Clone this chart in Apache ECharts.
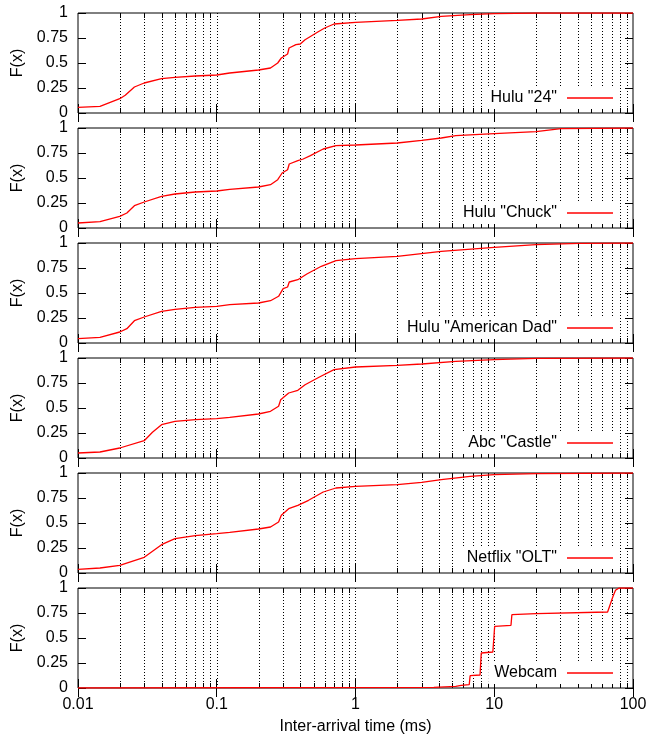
<!DOCTYPE html>
<html>
<head>
<meta charset="utf-8">
<script src="https://cdn.jsdelivr.net/npm/echarts@6/dist/echarts.min.js"></script>
<style>
  html, body { margin: 0; padding: 0; background: #fff; }
  #chart { width: 660px; height: 743px; }
</style>
</head>
<body>
<div id="chart"></div>
<script>
// CDF points [inter-arrival time (ms), F(x)]
const hulu24 = [
  [0.01, 0.057], [0.0144, 0.067], [0.02, 0.143], [0.0219, 0.177], [0.0255, 0.26],
  [0.03, 0.30], [0.04, 0.343], [0.05, 0.357], [0.07, 0.37], [0.1, 0.38],
  [0.124, 0.40], [0.2, 0.43], [0.244, 0.45], [0.275, 0.50], [0.292, 0.55],
  [0.324, 0.59], [0.332, 0.65], [0.372, 0.683], [0.4, 0.69], [0.433, 0.733],
  [0.535, 0.81], [0.6, 0.85], [0.7, 0.89], [1, 0.907], [2, 0.927],
  [3, 0.94], [4.15, 0.967], [6.7, 0.983], [10, 0.993], [20, 1.0], [100, 1.0]
];
const huluChuck = [
  [0.01, 0.05], [0.0144, 0.063], [0.02, 0.117], [0.0225, 0.15], [0.0255, 0.223],
  [0.03, 0.26], [0.04, 0.317], [0.05, 0.34], [0.07, 0.36], [0.1, 0.37],
  [0.124, 0.387], [0.2, 0.41], [0.244, 0.433], [0.275, 0.483], [0.296, 0.55],
  [0.324, 0.583], [0.333, 0.64], [0.384, 0.673], [0.42, 0.69], [0.473, 0.723],
  [0.585, 0.79], [0.723, 0.823], [1, 0.83], [2, 0.85], [3, 0.877],
  [4.15, 0.90], [5.28, 0.923], [10, 0.943], [20, 0.963], [30.3, 0.993], [100, 1.0]
];
const huluAmericanDad = [
  [0.01, 0.043], [0.0144, 0.057], [0.02, 0.11], [0.0225, 0.143], [0.0255, 0.223],
  [0.03, 0.26], [0.04, 0.317], [0.05, 0.337], [0.07, 0.357], [0.1, 0.367],
  [0.124, 0.383], [0.2, 0.40], [0.244, 0.423], [0.279, 0.467], [0.301, 0.543],
  [0.324, 0.56], [0.333, 0.61], [0.384, 0.633], [0.446, 0.69], [0.567, 0.767],
  [0.723, 0.823], [1, 0.843], [2, 0.867], [4.15, 0.917], [10, 0.957],
  [20, 0.983], [41, 0.997], [100, 1.0]
];
const abcCastle = [
  [0.01, 0.05], [0.0144, 0.06], [0.02, 0.10], [0.03, 0.173], [0.0344, 0.257],
  [0.04, 0.333], [0.05, 0.367], [0.07, 0.383], [0.1, 0.393], [0.124, 0.407],
  [0.2, 0.44], [0.244, 0.467], [0.279, 0.517], [0.289, 0.583], [0.33, 0.65],
  [0.384, 0.677], [0.433, 0.733], [0.55, 0.81], [0.7, 0.883], [1, 0.91],
  [2, 0.927], [3, 0.94], [5.28, 0.967], [10, 0.983], [20, 0.997], [100, 1.0]
];
const netflixOLT = [
  [0.01, 0.037], [0.0144, 0.05], [0.02, 0.077], [0.03, 0.157], [0.04, 0.283],
  [0.05, 0.343], [0.07, 0.373], [0.1, 0.393], [0.124, 0.407], [0.2, 0.44],
  [0.244, 0.46], [0.279, 0.51], [0.292, 0.577], [0.33, 0.643], [0.384, 0.677],
  [0.459, 0.727], [0.585, 0.81], [0.723, 0.85], [1, 0.867], [2, 0.883],
  [3, 0.907], [4.15, 0.933], [6.7, 0.967], [10, 0.983], [20, 0.993], [100, 1.0]
];
const webcam = [
  [0.01, 0.0], [3.67, 0.007], [5.28, 0.017], [5.78, 0.027], [6.6, 0.033],
  [6.7, 0.123], [7.9, 0.13], [8.06, 0.35], [9.77, 0.36], [10.07, 0.617],
  [13.2, 0.627], [13.4, 0.733], [20, 0.743], [65.6, 0.76], [68.4, 0.833],
  [71.8, 0.917], [74.8, 0.977], [79.4, 1.0], [100, 1.0]
];

const seriesNames = ['Hulu "24"', 'Hulu "Chuck"', 'Hulu "American Dad"', 'Abc "Castle"', 'Netflix "OLT"', 'Webcam'];
const seriesData = [hulu24, huluChuck, huluAmericanDad, abcCastle, netflixOLT, webcam];

// dotted vertical grid at every log tick between the decades
const gridTicks = [
  0.02, 0.03, 0.04, 0.05, 0.06, 0.07, 0.08, 0.09, 0.1,
  0.2, 0.3, 0.4, 0.5, 0.6, 0.7, 0.8, 0.9, 1,
  2, 3, 4, 5, 6, 7, 8, 9, 10,
  20, 30, 40, 50, 60, 70, 80, 90
];
const majorTicks = [0.1, 1, 10];

const FONT = 'Liberation Sans, Arial, Helvetica, sans-serif';
const FS = 16;
const panelTop = (i) => 13 + 115 * i;
const panelHeight = 100;

function renderGrid(params, api) {
  const v = api.value(0);
  const isMajor = api.value(2) === 1;
  const b = api.coord([v, 0]);
  const t = api.coord([v, 1]);
  const x = Math.round(b[0]) + 0.5;
  const children = [{
    type: 'line',
    shape: { x1: x, y1: b[1], x2: x, y2: t[1] },
    style: { stroke: '#000', lineWidth: 1, lineDash: [1, 2] }
  }];
  if (!isMajor) {
    children.push({
      type: 'line',
      shape: { x1: x, y1: b[1], x2: x, y2: b[1] - 5 },
      style: { stroke: '#000', lineWidth: 1 }
    });
    children.push({
      type: 'line',
      shape: { x1: x, y1: t[1], x2: x, y2: t[1] + 5 },
      style: { stroke: '#000', lineWidth: 1 }
    });
  }
  return { type: 'group', children: children };
}

const grids = [], xAxes = [], yAxes = [], series = [], legends = [];

seriesNames.forEach((name, i) => {
  const last = i === seriesNames.length - 1;
  grids.push({
    left: 78, right: 27, top: panelTop(i), height: panelHeight,
    show: true, borderColor: '#000', borderWidth: 1
  });
  const xBase = {
    type: 'log', logBase: 10, min: 0.01, max: 100, gridIndex: i,
    axisLine: { show: false },
    axisTick: { inside: true, length: 9, lineStyle: { color: '#000' } },
    splitLine: { show: false }
  };
  xAxes.push(Object.assign({}, xBase, {
    position: 'bottom',
    axisLabel: { show: last, color: '#000', fontSize: FS, fontFamily: FONT, margin: 9 },
    name: last ? 'Inter-arrival time (ms)' : '',
    nameLocation: 'middle', nameGap: 31,
    nameTextStyle: { color: '#000', fontSize: FS, fontFamily: FONT }
  }));
  xAxes.push(Object.assign({}, xBase, { position: 'top', axisLabel: { show: false } }));

  const yBase = {
    type: 'value', min: 0, max: 1, interval: 0.25, gridIndex: i,
    axisLine: { show: false },
    axisTick: { inside: true, length: 8, lineStyle: { color: '#000' } },
    splitLine: { show: false }
  };
  yAxes.push(Object.assign({}, yBase, {
    position: 'left',
    axisLabel: { color: '#000', fontSize: FS, fontFamily: FONT, margin: 10 },
    name: 'F(x)', nameLocation: 'middle', nameRotate: 90, nameGap: 46,
    nameTextStyle: { color: '#000', fontSize: FS, fontFamily: FONT }
  }));
  yAxes.push(Object.assign({}, yBase, { position: 'right', axisLabel: { show: false } }));

  series.push({
    type: 'custom', silent: true, z: 1,
    xAxisIndex: 2 * i, yAxisIndex: 2 * i,
    renderItem: renderGrid,
    data: gridTicks.map(v => [v, 0, majorTicks.includes(v) ? 1 : 0])
  });
  series.push({
    name: name, type: 'line',
    xAxisIndex: 2 * i, yAxisIndex: 2 * i,
    symbol: 'none', z: 3,
    color: '#ff0000',
    lineStyle: { color: '#ff0000', width: 1.3 },
    data: seriesData[i]
  });

  legends.push({
    data: [{ name: name, icon: 'rect' }], right: 41, top: panelTop(i) + 74,
    align: 'right', itemWidth: 46, itemHeight: 1.4,
    backgroundColor: '#fff', padding: [3, 6, 3, 6],
    selectedMode: false,
    itemStyle: { color: '#ff0000' },
    textStyle: { color: '#000', fontSize: FS, fontFamily: FONT, padding: [0, 5, 0, 0] }
  });
});

const chart = echarts.init(document.getElementById('chart'));
chart.setOption({
  animation: false,
  backgroundColor: '#fff',
  grid: grids,
  xAxis: xAxes,
  yAxis: yAxes,
  legend: legends,
  series: series
});
</script>
</body>
</html>
